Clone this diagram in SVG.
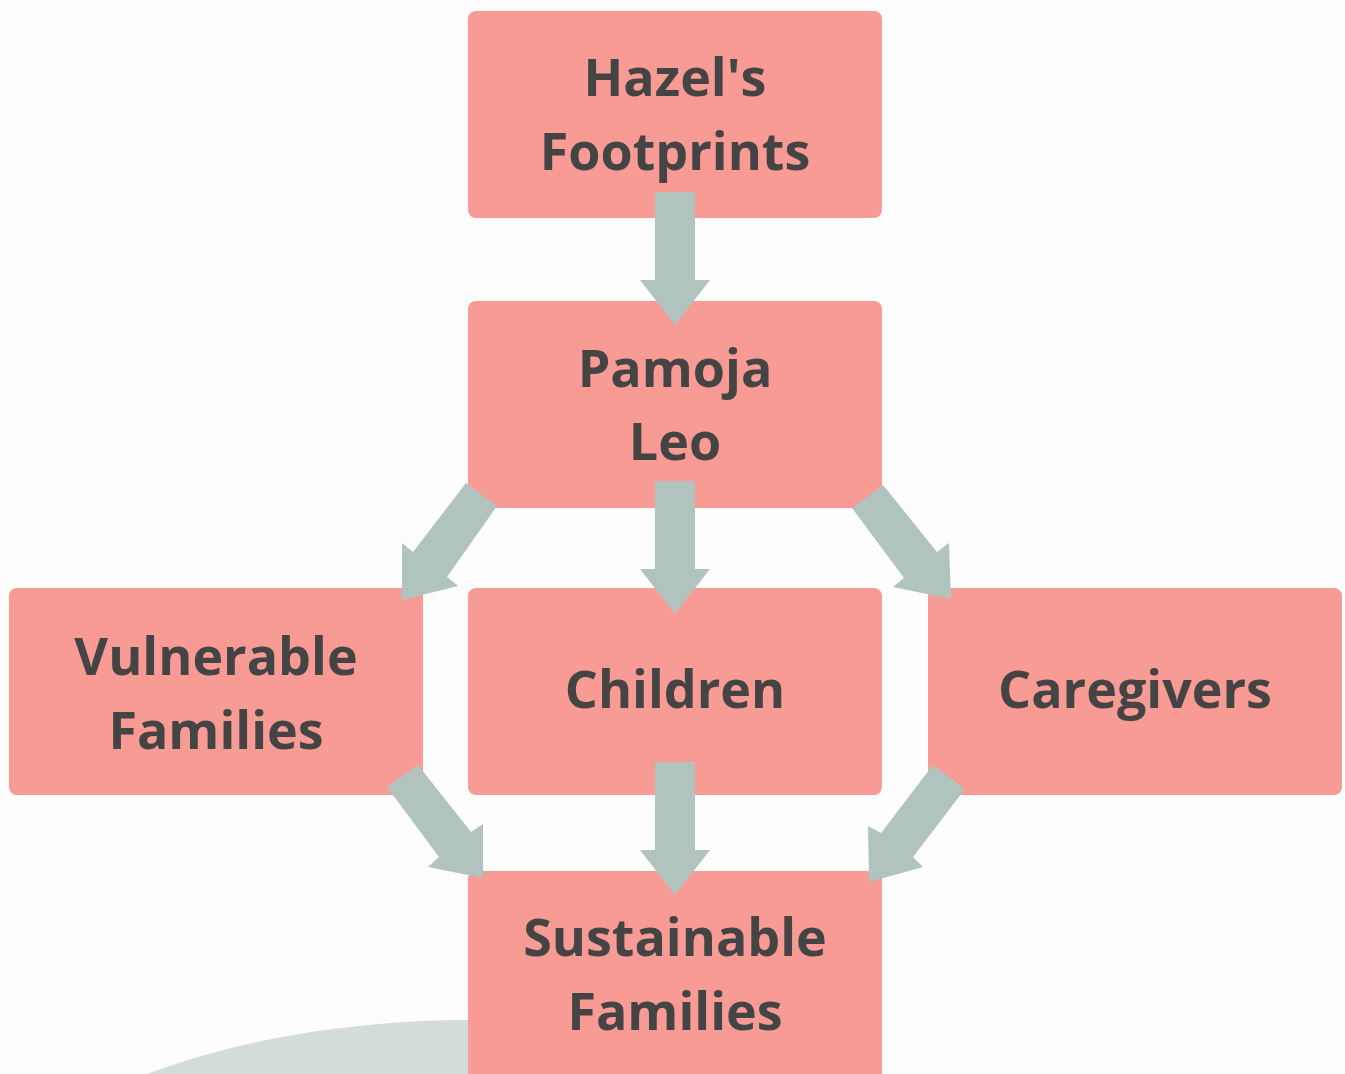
<svg xmlns="http://www.w3.org/2000/svg" width="1345" height="1074" viewBox="0 0 1345 1074">
<style>
.box{fill:#f89b95}
.arrow{fill:#b1c3bf}
.lbl{font-family:"Open Sans","Liberation Sans",sans-serif;font-weight:700;font-size:52px;fill:#444444;text-anchor:middle}
</style>
<rect width="1345" height="1074" fill="#fdfdfd"/>
<ellipse cx="470" cy="1300" rx="547" ry="280" fill="#d3dcd9"/>
<g id="n1"><rect class="box" x="468" y="11" width="414" height="207" rx="8"/><text class="lbl" x="675" y="96">Hazel's</text><text class="lbl" x="675" y="170">Footprints</text></g>
<g id="n2"><rect class="box" x="468" y="301" width="414" height="207" rx="8"/><text class="lbl" x="675" y="387">Pamoja</text><text class="lbl" x="675" y="460">Leo</text></g>
<g id="n3"><rect class="box" x="9" y="588" width="414" height="207" rx="8"/><text class="lbl" x="216" y="675">Vulnerable</text><text class="lbl" x="216" y="749">Families</text></g>
<g id="n4"><rect class="box" x="468" y="588" width="414" height="207" rx="8"/><text class="lbl" x="675" y="708">Children</text></g>
<g id="n5"><rect class="box" x="928" y="588" width="414" height="207" rx="8"/><text class="lbl" x="1135" y="708">Caregivers</text></g>
<g id="n6"><rect class="box" x="468" y="871" width="414" height="220" rx="8"/><text class="lbl" x="675" y="956">Sustainable</text><text class="lbl" x="675" y="1030">Families</text></g>
<g id="connectors">
<polygon class="arrow" points="655,192 695,192 695,280 710,280 675,325 640,280 655,280"/>
<polygon class="arrow" points="655,481 695,481 695,569 710,569 675,614 640,569 655,569"/>
<polygon class="arrow" points="655,762 695,762 695,850 710,850 675,895 640,850 655,850"/>
<polygon class="arrow" points="466,483 497,506 447,577 458,586 402,600 402,543 413,552"/>
<polygon class="arrow" points="883,485 852,508 904,578 893,587 951,599 949,543 937,552"/>
<polygon class="arrow" points="418,765 471,832 483,824 483,878 428,867 439,857 387,787"/>
<polygon class="arrow" points="933,765 965,789 913,857 923,867 869,882 868,826 881,833"/>
</g>
</svg>
